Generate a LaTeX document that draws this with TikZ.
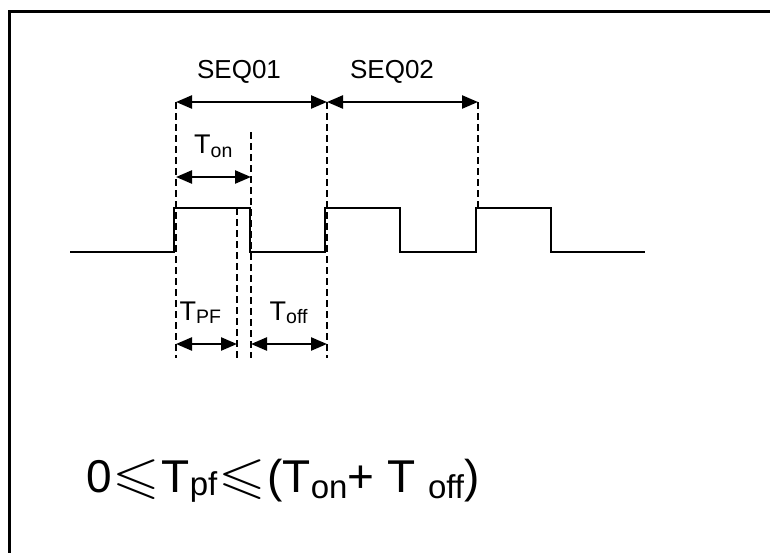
\documentclass[tikz,border=0pt]{standalone}
\usepackage{amssymb}
\usepackage{graphicx}
\usepackage{fontspec}
\setmainfont{Liberation Sans}
\usetikzlibrary{arrows.meta}
\newcommand{\myleq}{\makebox[50pt][c]{\scalebox{1.33}[1.12]{$\leqslant$}}}
\newcommand{\lsub}[1]{\raisebox{-3.5pt}{\fontsize{19.5}{20}\selectfont #1}}
\begin{document}
\begin{tikzpicture}[x=1pt,y=-1pt,
  sig/.style={line width=2.4pt},
  guide/.style={line width=1.7pt,dash pattern=on 7pt off 4pt},
  dim/.style={line width=2.4pt,{Triangle[length=16pt,width=13pt]}-{Triangle[length=16pt,width=13pt]}},
  lbl/.style={inner sep=0pt,anchor=base west,font=\fontsize{27}{30}\selectfont}]
\useasboundingbox (0,0) rectangle (770,552);
\draw[line width=2.6pt] (9.3,560) -- (9.3,11.3) -- (780,11.3);
% signal
\coordinate (s0) at (70,252);
\draw[sig] (s0) -- (174,252) -- (174,208) -- (250,208) -- (250,252) -- (325,252) -- (325,208) -- (400,208) -- (400,252) -- (476,252) -- (476,208) -- (551,208) -- (551,252) -- (645,252);
% guide coordinates
\coordinate (a1) at (176,102); \coordinate (a2) at (176,358);
\coordinate (b1) at (251,132); \coordinate (b2) at (251,358);
\coordinate (c1) at (237,208); \coordinate (c2) at (237,358);
\coordinate (d1) at (327,102); \coordinate (d2) at (327,358);
\coordinate (e1) at (478,102); \coordinate (e2) at (478,208);
\draw[guide] (a1) -- (a2);
\draw[guide] (b1) -- (b2);
\draw[guide] (c1) -- (c2);
\draw[guide] (d1) -- (d2);
\draw[guide] (e1) -- (e2);
% dimension arrows
\coordinate (p1) at (176,102); \coordinate (p2) at (327,102); \coordinate (p3) at (478,102);
\draw[dim] (p1) -- (p2);
\draw[dim] (p2) -- (p3);
\coordinate (q1) at (176,177); \coordinate (q2) at (251,177);
\draw[dim] (q1) -- (q2);
\coordinate (r1) at (176,344); \coordinate (r2) at (237,344);
\draw[dim] (r1) -- (r2);
\coordinate (t1) at (251,344); \coordinate (t2) at (327,344);
\draw[dim] (t1) -- (t2);
% labels
\node[inner sep=0pt,anchor=base,font=\fontsize{26}{30}\selectfont] (seq1) at (239,78) {SEQ01};
\node[inner sep=0pt,anchor=base,font=\fontsize{26}{30}\selectfont] (seq2) at (392,78) {SEQ02};
\node[lbl] (ton) at (194,153.5) {T\lsub{on}};
\node[lbl] (tpf) at (179.5,320) {T\lsub{PF}};
\node[lbl] (toff) at (269.5,320) {T\lsub{off}};
\node[inner sep=0pt,anchor=base west,font=\fontsize{46}{50}\selectfont] (f) at (86,492)
 {0\myleq T\raisebox{-3pt}{\fontsize{33}{33}\selectfont pf}\myleq(T\raisebox{-6pt}{\fontsize{33}{33}\selectfont on}+ T \raisebox{-6pt}{\fontsize{33}{33}\selectfont off})};
\end{tikzpicture}
\end{document}
